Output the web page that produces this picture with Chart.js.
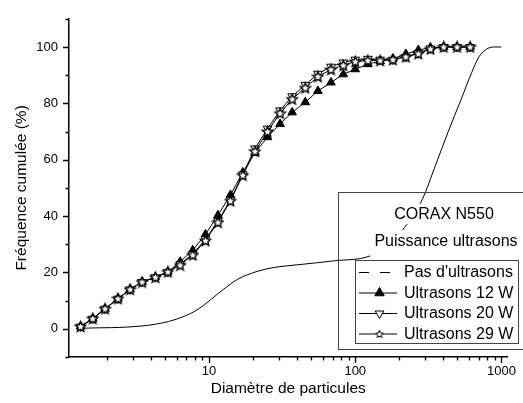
<!DOCTYPE html>
<html>
<head>
<meta charset="utf-8">
<script src="https://cdn.jsdelivr.net/npm/chart.js@4.4.1/dist/chart.umd.min.js"></script>
<style>
  html, body { margin: 0; padding: 0; background: #fff; }
</style>
</head>
<body>
<canvas id="psd" width="523" height="403"></canvas>
<script>
// Particle diameter classes (log spaced)
const sizes = [1.32, 1.60, 1.94, 2.38, 2.88, 3.48, 4.29, 5.22, 6.34, 7.73, 9.44, 11.5, 14.0, 17.0, 20.6, 25.1,
               30.6, 37.0, 45.5, 55.5, 68.2, 82.8, 100, 122, 148, 181, 222, 270, 327, 403, 497, 611];

// Cumulative frequency (%) for each ultrasound power
const us12W = [0.8, 3.6, 7.1, 10.7, 14.0, 16.6, 18.3, 20.2, 23.8, 27.9, 33.5, 40.3, 47.5, 55.5, 62.5, 68.0,
               72.7, 76.8, 80.4, 84.4, 87.4, 90.3, 92.1, 93.9, 95.0, 95.8, 97.5, 98.9, 99.8, 100, 100, 100];
const us20W = [0.8, 3.6, 7.1, 10.7, 14.0, 16.6, 18.3, 20.2, 23.0, 26.5, 31.8, 38.2, 45.8, 54.8, 64.0, 71.0,
               77.5, 82.5, 86.5, 90.5, 93.0, 94.5, 95.5, 95.8, 95.5, 95.5, 96.5, 97.8, 99.5, 100, 100, 100];
const us29W = [0.8, 3.6, 7.1, 10.7, 14.0, 16.6, 18.3, 20.2, 22.6, 26.2, 31.3, 37.8, 45.4, 54.5, 63.0, 70.0,
               76.5, 81.5, 85.5, 89.5, 92.0, 93.5, 94.8, 95.2, 95.2, 95.5, 96.5, 97.6, 99.3, 100, 100, 100];

// Without ultrasound: smooth curve
const noUsSizes  = [1.32, 3.47, 5.28, 6.8, 8.44, 12.4, 15.7, 21.4, 28, 40, 71, 128, 167, 218, 288, 354, 433,
                    531, 627, 702, 795, 901, 1000];
const noUsValues = [0.2, 1.0, 2.6, 4.5, 7.0, 13.8, 17.6, 20.4, 21.8, 22.7, 24.1, 26.0, 30.0, 36.0, 46.0, 58.0, 70.0,
                    81.5, 91.0, 96.5, 99.3, 100, 100];

// Axis ticks
const xTicks = [2, 3, 4, 5, 6, 7, 8, 9, 10, 20, 30, 40, 50, 60, 70, 80, 90, 100,
                200, 300, 400, 500, 600, 700, 800, 900, 1000];
const xLabels = [10, 100, 1000];
const yLabels = [0, 20, 40, 60, 80, 100];

const FONT = "'Liberation Sans', Arial, Helvetica, sans-serif";
Chart.defaults.font.family = FONT;
Chart.defaults.color = '#000';

function makeStar(outer, inner, lw) {
    const s = Math.ceil(outer * 2 + 2);
    const c = document.createElement('canvas');
    c.width = s;
    c.height = s;
    const g = c.getContext('2d');
    g.beginPath();
    for (let i = 0; i < 10; i++) {
        const r = i % 2 ? inner : outer;
        const a = -Math.PI / 2 + i * Math.PI / 5;
        const px = s / 2 + r * Math.cos(a);
        const py = s / 2 + r * Math.sin(a) + 0.4;
        if (i === 0) g.moveTo(px, py); else g.lineTo(px, py);
    }
    g.closePath();
    g.fillStyle = '#fff';
    g.fill();
    g.strokeStyle = '#000';
    g.lineWidth = lw;
    g.stroke();
    return c;
}

const starPlot = makeStar(5.4, 2.5, 1.4);
const starKey = makeStar(4, 1.8, 1);

function pairs(xs, ys) {
    return xs.map((v, i) => ({ x: v, y: ys[i] }));
}

// Minor / major tick marks drawn outside the axes
const tickMarks = {
    id: 'tickMarks',
    afterDraw(chart) {
        const { ctx } = chart;
        const x = chart.scales.x, y = chart.scales.y;
        ctx.save();
        ctx.strokeStyle = '#000';
        ctx.lineWidth = 1.3;
        ctx.beginPath();
        x.ticks.forEach(t => {
            const px = Math.round(x.getPixelForValue(t.value)) + 0.5;
            const len = xLabels.includes(t.value) ? 6 : 3.5;
            ctx.moveTo(px, x.top);
            ctx.lineTo(px, x.top + len);
        });
        y.ticks.forEach(t => {
            const py = Math.round(y.getPixelForValue(t.value)) + 0.5;
            const len = yLabels.includes(t.value) ? 6 : 3.5;
            ctx.moveTo(y.right, py);
            ctx.lineTo(y.right - len, py);
        });
        ctx.stroke();
        ctx.restore();
    }
};

// Boxed legend with sample name and header
const keyBox = {
    id: 'keyBox',
    afterDatasetsDraw(chart) {
        const ctx = chart.ctx;
        ctx.save();

        // header texts sit on white so the curve disappears behind them
        ctx.fillStyle = '#fff';
        ctx.fillRect(390, 204, 108, 20);
        ctx.fillRect(370, 230, 152, 26);

        ctx.strokeStyle = '#444';
        ctx.lineWidth = 1;
        ctx.strokeRect(338.5, 192.5, 200, 157);

        ctx.fillStyle = '#000';
        ctx.font = '16px ' + FONT;
        ctx.textBaseline = 'middle';
        ctx.textAlign = 'center';
        ctx.fillText('CORAX N550', 444, 214.5);
        ctx.fillText('Puissance ultrasons', 446, 241.5);

        ctx.fillStyle = '#fff';
        ctx.fillRect(355.5, 260.5, 163, 83);
        ctx.strokeStyle = '#444';
        ctx.strokeRect(355.5, 260.5, 163, 83);

        const rows = [272.5, 293, 313.5, 334];
        ctx.textAlign = 'left';
        chart.data.datasets.forEach((ds, i) => {
            const yy = rows[i];
            ctx.strokeStyle = '#000';
            ctx.lineWidth = 1;
            ctx.beginPath();
            if (ds.keyDash) {
                ctx.moveTo(359, yy); ctx.lineTo(369, yy);
                ctx.moveTo(380, yy); ctx.lineTo(390, yy);
            } else {
                ctx.moveTo(359, yy); ctx.lineTo(397, yy);
            }
            ctx.stroke();
            if (ds.keyStyle) {
                ctx.fillStyle = ds.keyFill || '#fff';
                ctx.strokeStyle = '#000';
                ctx.lineWidth = 1;
                Chart.helpers.drawPoint(ctx, {
                    pointStyle: ds.keyStyle,
                    radius: ds.keyRadius || 5,
                    rotation: ds.pointRotation || 0,
                    borderWidth: 1
                }, 379.5, yy);
            }
            ctx.fillStyle = '#000';
            ctx.fillText(ds.label, 404, yy + 0.5);
        });
        ctx.restore();
    }
};

new Chart(document.getElementById('psd'), {
    type: 'scatter',
    data: {
        datasets: [
            {
                label: "Pas d'ultrasons",
                data: pairs(noUsSizes, noUsValues),
                showLine: true,
                borderColor: '#000',
                borderWidth: 1,
                pointRadius: 0,
                cubicInterpolationMode: 'monotone',
                keyDash: true,
                order: 4
            },
            {
                label: 'Ultrasons 12 W',
                data: pairs(sizes, us12W),
                showLine: true,
                borderColor: '#000',
                borderWidth: 1,
                pointStyle: 'triangle',
                pointRadius: 5,
                pointBackgroundColor: '#000',
                pointBorderColor: '#000',
                pointBorderWidth: 1,
                keyStyle: 'triangle',
                keyFill: '#000',
                keyRadius: 5.5,
                order: 3
            },
            {
                label: 'Ultrasons 20 W',
                data: pairs(sizes, us20W),
                showLine: true,
                borderColor: '#000',
                borderWidth: 1,
                pointStyle: 'triangle',
                pointRotation: 180,
                pointRadius: 5,
                pointBackgroundColor: '#fff',
                pointBorderColor: '#000',
                pointBorderWidth: 1,
                keyStyle: 'triangle',
                keyFill: '#fff',
                keyRadius: 5,
                order: 2
            },
            {
                label: 'Ultrasons 29 W',
                data: pairs(sizes, us29W),
                showLine: true,
                borderColor: '#000',
                borderWidth: 1,
                pointStyle: starPlot,
                pointRadius: 5,
                keyStyle: starKey,
                order: 1
            }
        ]
    },
    options: {
        responsive: false,
        animation: false,
        devicePixelRatio: 1,
        layout: { padding: { top: 17, right: 10, left: 0, bottom: 0 } },
        plugins: {
            legend: { display: false },
            tooltip: { enabled: false }
        },
        scales: {
            x: {
                type: 'logarithmic',
                min: 1.1,
                max: 1100,
                afterFit: s => { s.height = 46; },
                afterBuildTicks: s => { s.ticks = xTicks.map(v => ({ value: v })); },
                grid: { display: false, drawTicks: false },
                border: { display: true, color: '#000', width: 1.5 },
                ticks: {
                    autoSkip: false,
                    maxRotation: 0,
                    padding: 7,
                    font: { size: 13 },
                    callback: v => xLabels.includes(v) ? String(v) : ''
                },
                title: {
                    display: true,
                    text: 'Diamètre de particules',
                    font: { size: 15.5 },
                    padding: { top: 0, bottom: 5 }
                }
            },
            y: {
                min: -10,
                max: 110,
                afterFit: s => { s.width = 69; },
                grid: { display: false, drawTicks: false },
                border: { display: true, color: '#000', width: 1.5 },
                ticks: {
                    stepSize: 10,
                    autoSkip: false,
                    padding: 11,
                    font: { size: 13 },
                    callback: v => yLabels.includes(v) ? String(v) : ''
                },
                title: {
                    display: true,
                    text: 'Fréquence cumulée (%)',
                    font: { size: 15.5 },
                    padding: { top: 12, bottom: 0 }
                }
            }
        }
    },
    plugins: [tickMarks, keyBox]
});
</script>
</body>
</html>
